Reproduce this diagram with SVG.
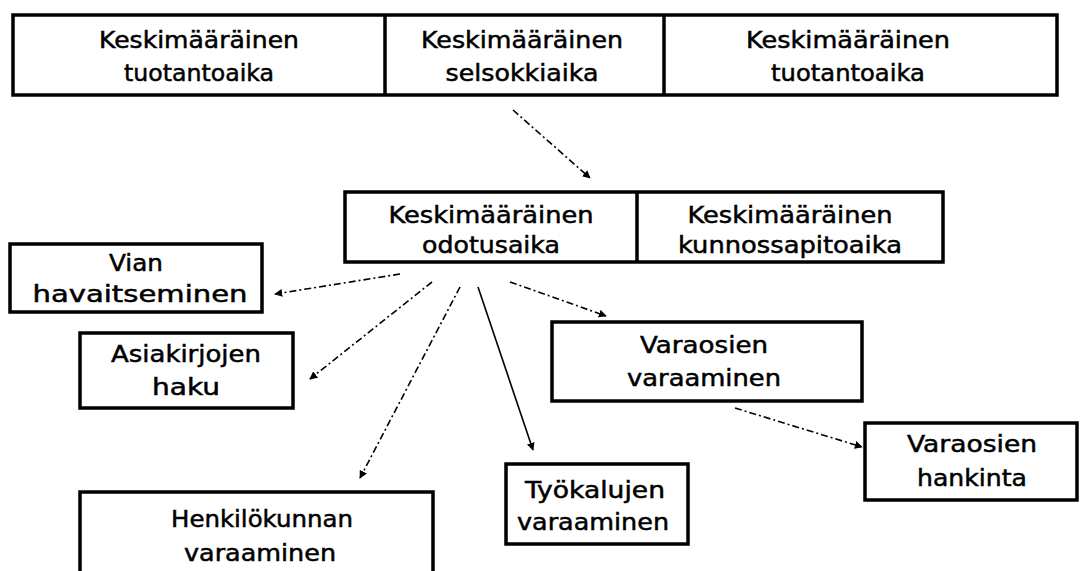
<svg xmlns="http://www.w3.org/2000/svg" width="1084" height="571" viewBox="0 0 1084 571">
<defs>
<style>
.box{fill:#fff;stroke:#000;stroke-width:3.5}
.div{stroke:#000;stroke-width:3.5}
text{font-family:"DejaVu Sans","Liberation Sans",Arial,sans-serif;font-size:23px;fill:#000;stroke:#000;stroke-width:0.5;text-anchor:middle}
.c{fill:none;stroke:#000;stroke-width:1.6}
.d{stroke-dasharray:7 3 2 3}
</style>
<marker id="ah" viewBox="0 0 10 10" refX="9" refY="5" markerWidth="8" markerHeight="8" markerUnits="userSpaceOnUse" orient="auto"><path d="M0,0 L10,5 L0,10 z" fill="#000"/></marker>
</defs>
<rect width="1084" height="571" fill="#fff"/>
<g id="top">
<rect class="box" x="13" y="15" width="1044" height="80"/>
<line class="div" x1="385" y1="15" x2="385" y2="95"/>
<line class="div" x1="664" y1="15" x2="664" y2="95"/>
<text x="199" y="48" textLength="200" lengthAdjust="spacingAndGlyphs">Keskimääräinen</text>
<text x="199" y="81" textLength="150" lengthAdjust="spacingAndGlyphs">tuotantoaika</text>
<text x="522" y="48" textLength="202" lengthAdjust="spacingAndGlyphs">Keskimääräinen</text>
<text x="522" y="81" textLength="153" lengthAdjust="spacingAndGlyphs">selsokkiaika</text>
<text x="848" y="48" textLength="204" lengthAdjust="spacingAndGlyphs">Keskimääräinen</text>
<text x="848" y="81" textLength="154" lengthAdjust="spacingAndGlyphs">tuotantoaika</text>
</g>
<g id="middle">
<rect class="box" x="345" y="192" width="598" height="70"/>
<line class="div" x1="637" y1="192" x2="637" y2="262"/>
<text x="491" y="223" textLength="205" lengthAdjust="spacingAndGlyphs">Keskimääräinen</text>
<text x="491" y="253" textLength="138" lengthAdjust="spacingAndGlyphs">odotusaika</text>
<text x="790" y="223" textLength="205" lengthAdjust="spacingAndGlyphs">Keskimääräinen</text>
<text x="790" y="253" textLength="224" lengthAdjust="spacingAndGlyphs">kunnossapitoaika</text>
</g>
<g id="vian">
<rect class="box" x="10" y="244" width="252" height="68"/>
<text x="136" y="271" textLength="54" lengthAdjust="spacingAndGlyphs">Vian</text>
<text x="140" y="302" textLength="215" lengthAdjust="spacingAndGlyphs">havaitseminen</text>
</g>
<g id="asiakirjojen">
<rect class="box" x="80" y="333" width="213" height="75"/>
<text x="186" y="362" textLength="150" lengthAdjust="spacingAndGlyphs">Asiakirjojen</text>
<text x="186" y="395" textLength="68" lengthAdjust="spacingAndGlyphs">haku</text>
</g>
<g id="henkilokunnan">
<rect class="box" x="80" y="492" width="353" height="100"/>
<text x="262" y="527" textLength="182" lengthAdjust="spacingAndGlyphs">Henkilökunnan</text>
<text x="260" y="561" textLength="152" lengthAdjust="spacingAndGlyphs">varaaminen</text>
</g>
<g id="tyokalujen">
<rect class="box" x="506" y="464" width="182" height="80"/>
<text x="595" y="498" textLength="140" lengthAdjust="spacingAndGlyphs">Työkalujen</text>
<text x="593" y="530" textLength="152" lengthAdjust="spacingAndGlyphs">varaaminen</text>
</g>
<g id="varaosien-varaaminen">
<rect class="box" x="552" y="322" width="310" height="79"/>
<text x="704" y="353" textLength="128" lengthAdjust="spacingAndGlyphs">Varaosien</text>
<text x="704" y="386" textLength="154" lengthAdjust="spacingAndGlyphs">varaaminen</text>
</g>
<g id="varaosien-hankinta">
<rect class="box" x="865" y="423" width="212" height="77"/>
<text x="972" y="452" textLength="130" lengthAdjust="spacingAndGlyphs">Varaosien</text>
<text x="972" y="486" textLength="110" lengthAdjust="spacingAndGlyphs">hankinta</text>
</g>
<g id="connectors">
<line class="c d" x1="513" y1="110" x2="590" y2="178" marker-end="url(#ah)"/>
<line class="c d" x1="400" y1="274" x2="275" y2="294" marker-end="url(#ah)"/>
<line class="c d" x1="432" y1="282" x2="310" y2="379" marker-end="url(#ah)"/>
<line class="c d" x1="460" y1="287" x2="360" y2="478" marker-end="url(#ah)"/>
<line class="c" x1="478" y1="287" x2="533" y2="450" marker-end="url(#ah)"/>
<line class="c d" x1="510" y1="282" x2="606" y2="316" marker-end="url(#ah)"/>
<line class="c d" x1="735" y1="408" x2="862" y2="447" marker-end="url(#ah)"/>
</g>
</svg>
